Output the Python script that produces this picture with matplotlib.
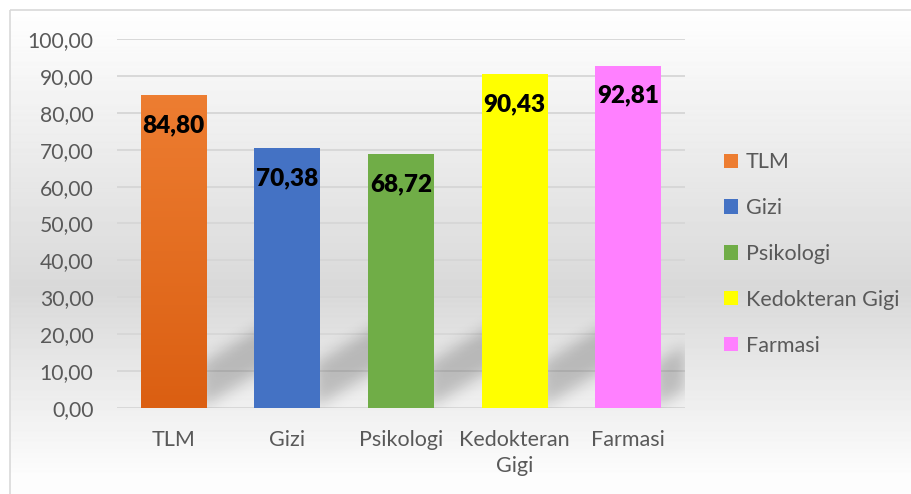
import numpy as np
import matplotlib
matplotlib.use('Agg')
import matplotlib.pyplot as plt
from matplotlib.patches import Patch, Rectangle
from matplotlib.ticker import FuncFormatter

categories = ['TLM', 'Gizi', 'Psikologi', 'Kedokteran Gigi', 'Farmasi']
tick_labels = ['TLM', 'Gizi', 'Psikologi', 'Kedokteran\nGigi', 'Farmasi']
values = [84.80, 70.38, 68.72, 90.43, 92.81]
colors = ['#ED7D31', '#4472C4', '#70AD47', '#FFFF00', '#FF80FF']

plt.rcParams['font.family'] = ['Lato', 'DejaVu Sans']
text_color = '#595959'

def comma(v, pos=None):
  return f"{v:.2f}".replace('.', ',')

fig = plt.figure(figsize=(9.12, 4.94), dpi=100)

# background: white border area, grey vertical gradient inside the chart frame
bg = fig.add_axes([0, 0, 1, 1], zorder=-10)
rows = np.arange(494)
shade = np.interp(rows, [10, 290, 475], [1.0, 0.85, 0.99])
shade[rows < 10] = 1.0
img = np.repeat(shade[:, None], 912, axis=1)
img[:, :10] = 1.0
bg.imshow(img, cmap='gray', vmin=0, vmax=1, aspect='auto', extent=(0, 912, 494, 0))
bg.add_patch(Rectangle((10, 10), 910, 490, fill=False, edgecolor='#d9d9d9', linewidth=1.2))
bg.set_xlim(0, 912)
bg.set_ylim(494, 0)
bg.axis('off')

ax = fig.add_axes([117 / 912, 86 / 494, 568 / 912, 369 / 494])
ax.set_facecolor('none')
x = np.arange(len(categories))
width = 0.58

# soft diagonal shadows behind the bars
W, H = 568, 369
gx = np.linspace(-0.5, 4.5, W)
gy = np.linspace(100, 0, H)
XX, YY = np.meshgrid(gx, gy)
mask = np.zeros((H, W))
for xc in x:
  u = XX - (xc + width / 2 - 0.05)
  inside = (u >= 0) & (u <= 0.75) & (YY >= 18.5 * u) & (YY <= 12 + 18.5 * u)
  mask[inside] = 1.0
k = np.exp(-0.5 * (np.arange(-20, 21) / 7.0) ** 2)
k /= k.sum()
mask = np.apply_along_axis(lambda r: np.convolve(r, k, mode='same'), 1, mask)
mask = np.apply_along_axis(lambda c: np.convolve(c, k, mode='same'), 0, mask)
shadow = np.zeros((H, W, 4))
shadow[..., 3] = mask * 0.2
ax.imshow(shadow, extent=(-0.5, 4.5, 0, 100), aspect='auto', zorder=1)

bars = ax.bar(x, values, width=width, color=colors, zorder=3)

# TLM bar has a light vertical gradient
grad = np.linspace(0, 1, 100)[:, None]
tlm = np.zeros((100, 1, 3))
top = np.array([0xED, 0x7D, 0x31]) / 255
bottom = np.array([0xDB, 0x5F, 0x12]) / 255
tlm[:, 0, :] = top * (1 - grad) + bottom * grad
b0 = bars[0]
gimg = ax.imshow(tlm, extent=(b0.get_x(), b0.get_x() + b0.get_width(), 0, values[0]),
                 aspect='auto', zorder=4)
gimg.set_clip_path(b0)

for xi, v in zip(x, values):
  ax.annotate(comma(v), (xi, v), xytext=(0, -21.5), textcoords='offset points',
              ha='center', va='center', fontsize=17.5, fontweight='heavy', color='black', zorder=5)

ax.set_xlim(-0.5, 4.5)
ax.set_ylim(0, 100)
ax.set_yticks(np.arange(0, 101, 10))
ax.yaxis.set_major_formatter(FuncFormatter(comma))
ax.set_xticks(x)
ax.set_xticklabels(tick_labels, linespacing=1.35)
ax.tick_params(axis='y', length=0, pad=17, labelsize=15.2, labelcolor=text_color)
ax.tick_params(axis='x', length=0, pad=16, labelsize=15.5, labelcolor=text_color)
ax.grid(True, axis='y', color='#d6d6d6', linewidth=1.3, zorder=0)
ax.set_axisbelow(True)
for s in ax.spines.values():
  s.set_visible(False)

handles = [Patch(facecolor=c, edgecolor='none') for c in colors]
leg = fig.legend(handles, categories, loc='center left', bbox_to_anchor=(724 / 912, 0.486),
                 frameon=False, fontsize=15.5, labelspacing=1.2, handlelength=0.65,
                 handleheight=0.65, handletextpad=0.35, borderpad=0, borderaxespad=0)
for t in leg.get_texts():
  t.set_color(text_color)

fig.savefig('out.png', dpi=100)
